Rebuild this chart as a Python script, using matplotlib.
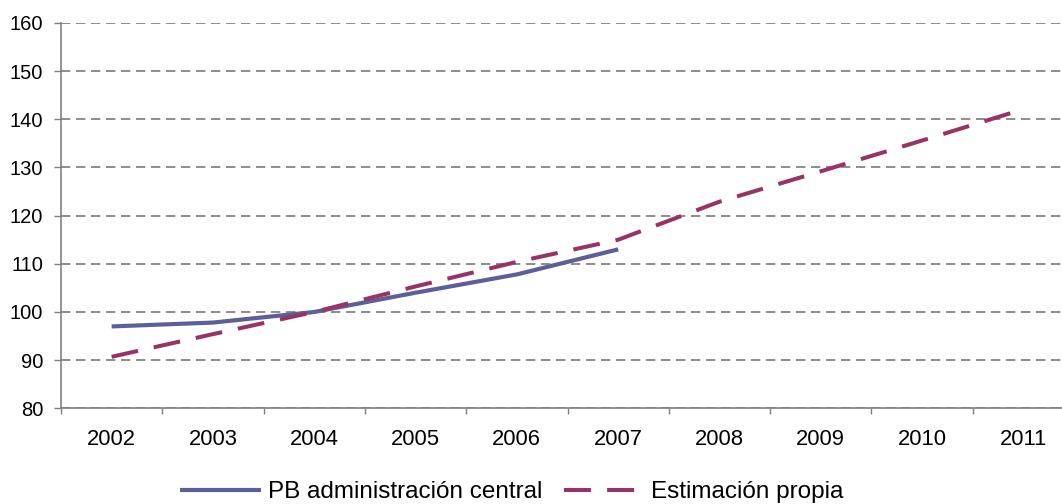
import matplotlib
matplotlib.use("Agg")
import matplotlib.pyplot as plt
import numpy as np

years = ["2002", "2003", "2004", "2005", "2006", "2007", "2008", "2009", "2010", "2011"]
pb_admin = [97.0, 97.8, 100.0, 104.0, 107.8, 113.0]
estimacion = [90.7, 95.4, 100.0, 105.3, 110.4, 115.0, 122.9, 129.2, 135.6, 142.1]
yticks = [80, 90, 100, 110, 120, 130, 140, 150, 160]

plt.rcParams['font.family'] = ['Liberation Sans', 'DejaVu Sans']

W, H = 1062, 504
fig = plt.figure(figsize=(W / 100, H / 100), dpi=100)
left, right, top, bottom = 61, 1074, 23, 408.3
ax = fig.add_axes([left / W, 1 - bottom / H, (right - left) / W, (bottom - top) / H])

x = np.arange(len(years))
ax.plot(x[:len(pb_admin)], pb_admin, color='#5c5f9a', lw=3.0, solid_capstyle='butt',
        label='PB administración central', zorder=3)
ax.plot(x, estimacion, color='#993366', lw=2.9, dashes=(6.7, 4.0), dash_capstyle='butt',
        label='Estimación propia', zorder=3)

ax.set_xlim(-0.5, len(years) - 0.5)
ax.set_ylim(80, 160)
ax.set_yticks(yticks)
ax.set_yticklabels([str(v) for v in yticks])
ax.set_xticks(x)
ax.set_xticklabels(years)
ax.set_xticks(np.arange(-0.5, len(years)), minor=True)
ax.tick_params(axis='x', which='major', length=0, pad=15, labelsize=15.8, colors='black')
ax.tick_params(axis='x', which='minor', length=4.3, width=1, color='#808080', direction='out')
ax.tick_params(axis='y', length=5, width=1, color='#808080', labelsize=14.5, pad=7.7, colors='black')

ax.yaxis.grid(True, color='#7a7a7a', lw=1.2, dashes=(5.6, 3.4))
ax.set_axisbelow(True)
for s in ['top', 'right']:
    ax.spines[s].set_visible(False)
for s in ['left', 'bottom']:
    ax.spines[s].set_color('#808080')
    ax.spines[s].set_linewidth(1.2)

leg = fig.legend(loc='center', bbox_to_anchor=(512 / W, 1 - 492 / H), ncol=2,
                 frameon=False, fontsize=17.5, handlelength=3.3, handletextpad=0.29,
                 columnspacing=0.9, borderaxespad=0, borderpad=0)

fig.savefig('out.png', dpi=100)
